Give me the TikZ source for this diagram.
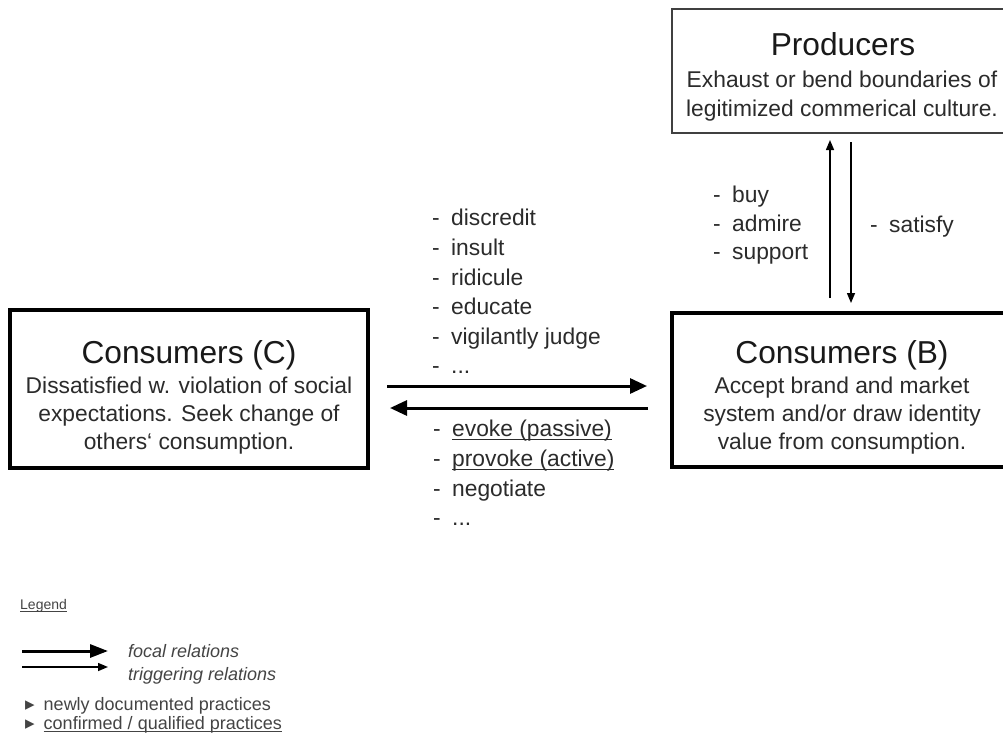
\documentclass[tikz,border=0pt]{standalone}
\usepackage{fontspec}
\setmainfont{Liberation Sans}
\newfontfamily\dejavu{DejaVu Sans}
\usetikzlibrary{arrows.meta,calc}
\definecolor{txt}{HTML}{2B2B2B}
\definecolor{lgd}{HTML}{444444}
\newcommand{\myul}[2][-3.5pt]{\setbox0\hbox{#2}\rlap{\rule[#1]{\wd0}{0.9pt}}\box0}
\tikzset{
  bigbox/.style={draw=black, line width=4.5pt, inner sep=0pt, outer sep=0pt},
  prodbox/.style={draw=black!75, line width=2pt, inner sep=0pt, outer sep=0pt},
  head/.style={font=\fontsize{31.7}{36}\selectfont, text=black!90, inner sep=0pt, anchor=base},
  body/.style={font=\fontsize{22.8}{28}\selectfont, text=txt, inner sep=0pt, align=center},
  lst/.style={font=\fontsize{22.8}{29.6}\selectfont, text=txt, inner sep=0pt, align=left, anchor=west},
  focal/.style={line width=3pt, -{Triangle[length=17pt,width=15pt]}},
  focallg/.style={line width=3pt, -{Triangle[length=18pt,width=13pt]}},
  trig/.style={line width=1.5pt, -{Triangle[length=10pt,width=8pt]}},
  lgtext/.style={font=\fontsize{18}{18}\selectfont, text=lgd, inner sep=0pt, anchor=base west},
}
\begin{document}
\begin{tikzpicture}[x=1pt,y=-1pt]
\useasboundingbox[fill=white] (0,0) rectangle (1003,736);

% boxes
\node[bigbox, minimum width=358pt, minimum height=158pt] (C) at (189,389) {};
\node[head] (Ch) at (189,363) {Consumers (C)};
\node[body] (Cb) at (189,416) {Dissatisfied w. violation of social\\expectations. Seek change of\\others‘ consumption.};

\node[bigbox, minimum width=340pt, minimum height=154pt] (B) at (842,390) {};
\node[head] (Bh) at (842,363) {Consumers (B)};
\node[body] (Bb) at (842,416) {Accept brand and market\\system and/or draw identity\\value from consumption.};

\node[prodbox, minimum width=340pt, minimum height=124pt] (P) at (842,71) {};
\node[head] (Ph) at (843,55) {Producers};
\node[body, font=\fontsize{22.8}{29.5}\selectfont] (Pb) at (842,96) {Exhaust or bend boundaries of\\legitimized commerical culture.};

% lists
\node[lst] (L1) at (432,291.7) {-\enspace discredit\\-\enspace insult\\-\enspace ridicule\\-\enspace educate\\-\enspace vigilantly judge\\-\enspace ...};
\node[lst] (L2) at (433,473) {-\enspace\myul{evoke (passive)}\\-\enspace\myul{provoke (active)}\\-\enspace negotiate\\-\enspace ...};
\node[lst, font=\fontsize{22.8}{28.5}\selectfont] (L3) at (713,225.6) {-\enspace buy\\-\enspace admire\\-\enspace support};
\node[lst, anchor=base west] (L4) at (870,232) {-\enspace satisfy};

% relations
\draw[focal] ($(C.east)+(19,-3)$) -- ($(B.west)+(-25,-4)$);
\draw[focal] ($(B.west)+(-24,18)$) -- ($(C.east)+(22,19)$);
\draw[trig] ($(B.north)+(-12,-15)$) -- ($(P.south)+(-12,7)$);
\draw[trig] ($(P.south)+(9,9)$) -- ($(B.north)+(9,-10)$);

% legend
\node[lgtext, font=\fontsize{14}{14}\selectfont] (lg) at (20,609) {\myul[-3pt]{Legend}};
\coordinate (fa) at (22,651);
\coordinate (fb) at (108,651);
\coordinate (ta) at (22,667);
\coordinate (tb) at (108,667);
\draw[focallg] (fa) -- (fb);
\draw[trig] (ta) -- (tb);
\node[lgtext, font=\fontsize{18}{18}\itshape] (lf) at (128,657) {focal relations};
\node[lgtext, font=\fontsize{18}{18}\itshape] (lt) at (128,680) {triggering relations};
\node[lgtext] (ln) at (25,710) {{\dejavu\fontsize{19}{19}\selectfont ▸}\hspace{9pt}newly documented practices};
\node[lgtext] (lc) at (25,729) {{\dejavu\fontsize{19}{19}\selectfont ▸}\hspace{9pt}\myul[-3pt]{confirmed / qualified practices}};
\end{tikzpicture}
\end{document}
